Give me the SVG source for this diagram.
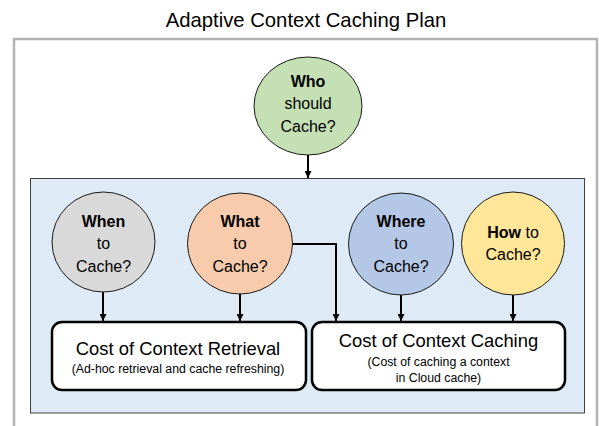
<svg xmlns="http://www.w3.org/2000/svg" width="599" height="426" viewBox="0 0 599 426">
<defs>
<marker id="arr" viewBox="0 0 8 8" refX="8" refY="4" markerWidth="7" markerHeight="7" markerUnits="userSpaceOnUse" orient="auto">
<path d="M0,0 L8,4 L0,8 z" fill="#000"/>
</marker>
<style>
text{font-family:"Liberation Sans",Arial,sans-serif;fill:#000;text-anchor:middle}
.q{font-size:16px}
.b{font-weight:bold}
.node ellipse{stroke:#1a1a1a;stroke-width:1}
.box rect{fill:#fff;stroke:#000;stroke-width:2.5}
.h{font-size:18.4px}
.s{font-size:12.3px}
.conn path{fill:none;stroke:#000;stroke-width:2;marker-end:url(#arr)}
</style>
</defs>
<rect width="599" height="426" fill="#fff"/>
<text x="306" y="27" style="font-size:20.3px">Adaptive Context Caching Plan</text>
<rect id="frame" x="14" y="39" width="583" height="420" fill="#fff" stroke="#b3b3b3" stroke-width="2.5"/>
<rect id="plan" x="30.5" y="178.5" width="554" height="234.5" fill="#deebf7" stroke="#404040" stroke-width="1"/>
<g id="who" class="node">
<ellipse cx="308" cy="106" rx="54" ry="49" fill="#c5e0b4"/>
<text class="q b" x="308" y="87">Who</text>
<text class="q" x="308" y="109">should</text>
<text class="q" x="308" y="132">Cache?</text>
</g>
<g id="when" class="node">
<ellipse cx="103.5" cy="242" rx="51.5" ry="50" fill="#d9d9d9"/>
<text class="q b" x="103.5" y="227">When</text>
<text class="q" x="103.5" y="249">to</text>
<text class="q" x="103.5" y="272">Cache?</text>
</g>
<g id="what" class="node">
<ellipse cx="240" cy="243.5" rx="52.5" ry="50.5" fill="#f8cbad"/>
<text class="q b" x="240" y="227">What</text>
<text class="q" x="240" y="249">to</text>
<text class="q" x="240" y="272">Cache?</text>
</g>
<g id="where" class="node">
<ellipse cx="401" cy="244" rx="52.5" ry="51" fill="#b4c7e7"/>
<text class="q b" x="401" y="227">Where</text>
<text class="q" x="401" y="249">to</text>
<text class="q" x="401" y="272">Cache?</text>
</g>
<g id="how" class="node">
<ellipse cx="513" cy="243.5" rx="51.5" ry="51.5" fill="#ffe699"/>
<text class="q" x="513" y="238"><tspan class="b">How</tspan> to</text>
<text class="q" x="513" y="260">Cache?</text>
</g>
<g id="retrieval" class="box">
<rect x="52" y="322" width="254" height="68" rx="10"/>
<text class="h" x="178" y="355">Cost of Context Retrieval</text>
<text class="s" x="178" y="373">(Ad-hoc retrieval and cache refreshing)</text>
</g>
<g id="caching" class="box">
<rect x="312" y="322" width="253" height="68" rx="10"/>
<text class="h" x="438.5" y="347">Cost of Context Caching</text>
<text class="s" x="438.5" y="366">(Cost of caching a context</text>
<text class="s" x="438.5" y="382">in Cloud cache)</text>
</g>
<g id="connectors" class="conn">
<path d="M308,155 V178"/>
<path d="M103,292 V321"/>
<path d="M240,294 V321"/>
<path d="M292.5,244 H336 V321"/>
<path d="M401,295 V321"/>
<path d="M513,295 V321"/>
</g>
</svg>
